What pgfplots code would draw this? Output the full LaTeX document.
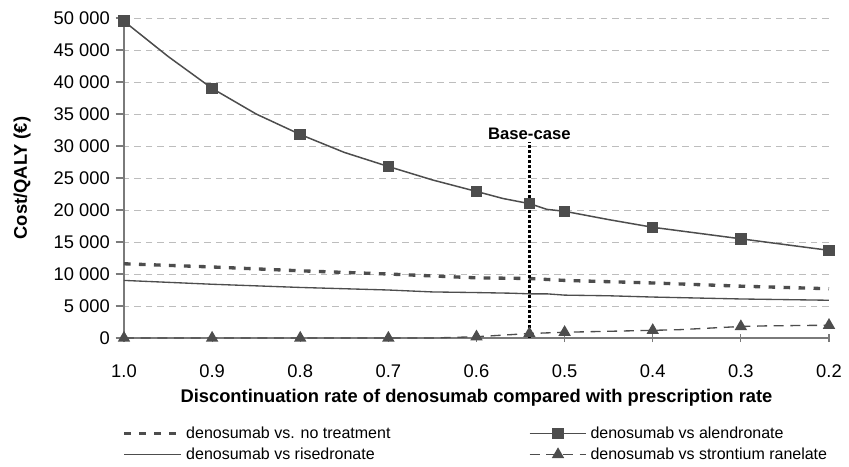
\documentclass[border=0pt]{standalone}
\usepackage{fontspec}
\setmainfont{Liberation Sans}
\usepackage{pgfplots}
\pgfplotsset{compat=1.18}
\definecolor{dgray}{HTML}{4D4D4D}
\definecolor{agray}{HTML}{7A7A7A}
\definecolor{ggray}{HTML}{BDBDBD}
\begin{document}
\begin{tikzpicture}
\begin{axis}[
    scale only axis,
    width=423pt, height=192pt,
    xmin=0.2, xmax=1.0, ymin=0, ymax=50000,
    x dir=reverse,
    axis x line=bottom, axis y line=left,
    axis line style={agray, line width=0.7pt, -},
    xtick={1.0,0.9,0.8,0.7,0.6,0.5,0.4,0.3,0.2},
    xticklabels={1.0,0.9,0.8,0.7,0.6,0.5,0.4,0.3,0.2},
    ytick={0,5000,...,50000},
    /pgf/number format/assume math mode=true,
    /pgf/number format/1000 sep={\ },
    scaled y ticks=false,
    tick style={agray, line width=0.7pt},
    major tick length=5pt,
    xtick align=center, ytick align=outside,
    ymajorgrids,
    grid style={ggray, dash pattern=on 4pt off 3pt, line width=0.6pt},
    ticklabel style={font=\fontsize{11}{13}\selectfont, text=black},
    xticklabel style={yshift=-10pt},
    xlabel={\bfseries Discontinuation rate of denosumab compared with prescription rate},
    ylabel={\bfseries Cost/QALY (€)},
    label style={font=\fontsize{11}{13}\selectfont},
    xlabel style={yshift=0pt},
    ylabel style={yshift=7pt},
    legend columns=2,
    legend cell align=left,
    legend style={at={(rel axis cs:0,0)}, anchor=north west, xshift=-4pt, yshift=-49pt,
        draw=none, fill=none, font=\fontsize{9.6}{11}\selectfont, row sep=0pt,
        /tikz/every even column/.append style={column sep=81pt}},
    legend image code/.code={
        \draw[#1, mark indices={2}] plot coordinates {(0cm,0cm) (0.6cm,0cm) (1.2cm,0cm)};},
    clip=false,
]
\addplot[dgray, line width=2pt, dash pattern=on 4pt off 5pt] coordinates {
(1.0,11600)(0.9,11100)(0.8,10500)(0.7,10000)(0.6,9400)(0.54,9300)(0.5,9000)(0.4,8600)(0.3,8100)(0.2,7700)};
\addlegendentry{denosumab vs. no treatment}
\addplot[dgray, line width=0.9pt, mark=square*, mark size=3pt,
    mark indices={1,3,5,7,9,11,13,15,17,19},
    mark options={solid, fill=dgray}] coordinates {
(1.0,49500)(0.95,44000)(0.9,39000)(0.85,35000)(0.8,31800)(0.75,29000)(0.7,26800)(0.65,24700)
(0.6,22900)(0.57,21800)(0.54,21000)(0.52,20100)(0.5,19800)(0.45,18500)(0.4,17300)(0.35,16400)
(0.3,15500)(0.25,14600)(0.2,13700)};
\addlegendentry{denosumab vs alendronate}
\addplot[dgray, line width=0.8pt] coordinates {
(1.0,9000)(0.9,8400)(0.8,7900)(0.7,7500)(0.65,7200)(0.6,7100)(0.56,7000)(0.54,6900)(0.52,6900)
(0.5,6700)(0.45,6600)(0.4,6400)(0.3,6100)(0.2,5900)};
\addlegendentry{denosumab vs risedronate}
\addplot[dgray, line width=0.8pt, dash pattern=on 6pt off 4pt, mark=triangle*, mark size=3.5pt,
    mark indices={1,2,3,4,6,7,8,9,11,13}, mark options={solid, fill=dgray}] coordinates {
(1.0,0)(0.9,0)(0.8,0)(0.7,0)(0.65,0)(0.6,200)(0.54,700)(0.5,900)(0.4,1200)(0.37,1300)(0.3,1800)(0.27,1900)(0.2,2000)};
\addlegendentry{denosumab vs strontium ranelate}
\addplot[black, line width=1.8pt, dash pattern=on 1.6pt off 1.4pt, forget plot] coordinates {(0.54,0)(0.54,30700)};
\node[anchor=south, font=\bfseries\fontsize{10}{12}\selectfont, inner sep=1pt] at (axis cs:0.54,30700) {Base-case};
\end{axis}
\pgfresetboundingbox
\path (-74.4pt,-76.8pt) rectangle (435pt,202.8pt);
\end{tikzpicture}
\end{document}
